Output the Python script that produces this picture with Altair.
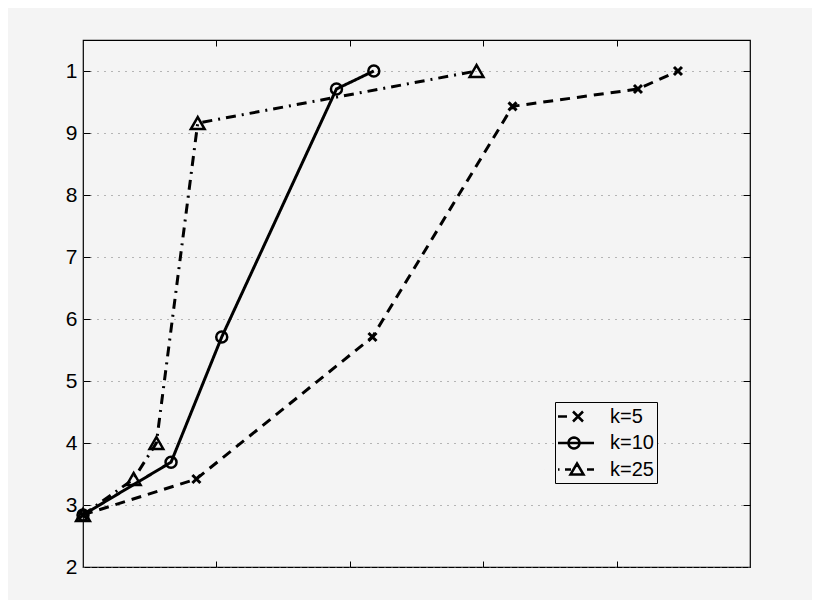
import math
import altair as alt
import pandas as pd

series = ["k=5", "k=10", "k=25"]
k5_x = [0.0, 0.85, 2.17, 3.22, 4.16, 4.46]
k5_y = [2.84, 3.42, 5.71, 9.43, 9.71, 10.0]
k10_x = [0.0, 0.66, 1.04, 1.90, 2.18]
k10_y = [2.84, 3.69, 5.71, 9.71, 10.0]
k25_x = [0.0, 0.38, 0.55, 0.86, 2.95]
k25_y = [2.84, 3.42, 4.0, 9.16, 10.0]
y_ticks = [2, 3, 4, 5, 6, 7, 8, 9, 10]
x_ticks = [1, 2, 3, 4]

rows = []
for name, xs_, ys_ in zip(series, [k5_x, k10_x, k25_x], [k5_y, k10_y, k25_y]):
    for i, (a, b) in enumerate(zip(xs_, ys_)):
        rows.append({"series": name, "idx": i, "x": a, "y": b})
df = pd.DataFrame(rows)

W, H = 667, 527
BG = "#f4f4f4"
FONT = "Liberation Sans"

xs = alt.Scale(domain=[0, 5], nice=False, zero=False)
ys = alt.Scale(domain=[2, 10.5], nice=False, zero=False)

base = alt.Chart(df)

y_main_axis = alt.Axis(
    orient="left", values=y_ticks,
    labelExpr="datum.value == 10 ? '1' : datum.label",
    ticks=False, tickSize=0, domain=False, grid=True,
    gridDash=[1, 6], gridColor="#777777", gridWidth=1,
    title=None, labelFont=FONT, labelFontSize=21, labelColor="black",
    labelPadding=6)

def line_layer(name, dash, axis):
    return base.transform_filter(alt.datum.series == name).mark_line(
        strokeWidth=3, color="black", strokeDash=dash).encode(
        x=alt.X("x:Q", scale=xs, axis=None),
        y=alt.Y("y:Q", scale=ys, axis=axis),
        order="idx:Q",
    )

l5 = line_layer("k=5", [10, 7], y_main_axis)
l10 = line_layer("k=10", [1, 0], None)
l25 = line_layer("k=25", [10, 6, 2, 6], None)

def marker_layer(name, shape, size, sw):
    return base.transform_filter(alt.datum.series == name).mark_point(
        shape=shape, size=size, filled=False, color="black",
        strokeWidth=sw, opacity=1).encode(
        x=alt.X("x:Q", scale=xs, axis=None),
        y=alt.Y("y:Q", scale=ys, axis=None),
    )

m5 = marker_layer("k=5", "M-1,-1L1,1M-1,1L1,-1", 64, 3)
m10 = marker_layer("k=10", "circle", 121, 2.5)
m25 = marker_layer("k=25", "triangle-up", 190, 2.5)

ticksA = base.mark_point(opacity=0).encode(
    x=alt.X("x:Q", scale=xs, axis=alt.Axis(
        orient="top", offset=-H, values=x_ticks, labels=False, domain=False,
        grid=False, tickSize=6, tickColor="black", title=None)),
    y=alt.Y("y:Q", scale=ys, axis=alt.Axis(
        orient="right", offset=-W, values=y_ticks[1:], labels=False,
        domain=False, grid=False, tickSize=7, tickColor="black", title=None)),
)
ticksB = base.mark_point(opacity=0).encode(
    x=alt.X("x:Q", scale=xs, axis=alt.Axis(
        orient="bottom", offset=-H, values=x_ticks, labels=False, domain=False,
        grid=False, tickSize=6, tickColor="black", title=None)),
    y=alt.Y("y:Q", scale=ys, axis=alt.Axis(
        orient="left", offset=-W, values=y_ticks[1:], labels=False,
        domain=False, grid=False, tickSize=7, tickColor="black", title=None)),
)

# legend symbol glyphs (pixel units, converted to the symbol's unit box)
SYM_SIZE = 400          # sqrt -> 20 px box, unit = 10 px
UNIT = 10.0
CX = 11.5               # symbol centre offset inside a legend entry

def pt(px, py):
    return f"{(px - CX) / UNIT:.3f},{py / UNIT:.3f}"

def seg(x0, x1):
    return f"M{pt(x0, 0)}L{pt(x1, 0)}"

anchor = f"M{pt(-14, 0)}L{pt(-13.99, 0)}"
cross = (f"M{pt(15, -5)}L{pt(25, 5)}M{pt(15, 5)}L{pt(25, -5)}")
circ_pts = [(16 + 5.5 * math.cos(2 * math.pi * i / 24),
             5.5 * math.sin(2 * math.pi * i / 24)) for i in range(24)]
circle = "M" + "L".join(pt(a, b) for a, b in circ_pts) + "Z"
tri = f"M{pt(19, -6)}L{pt(25.5, 5)}L{pt(12.5, 5)}Z"

legend_paths = [
    anchor + seg(0, 9) + cross,
    anchor + seg(0, 36) + circle,
    anchor + seg(0, 1.5) + seg(7, 13) + tri + seg(29, 36),
]

leg = base.mark_point(filled=False, color="black", opacity=0).encode(
    x=alt.X("x:Q", scale=xs, axis=None),
    y=alt.Y("y:Q", scale=ys, axis=None),
    shape=alt.Shape("series:N", scale=alt.Scale(domain=series, range=legend_paths),
                    legend=alt.Legend(
                        orient="none", legendX=472, legendY=362, title=None,
                        symbolSize=SYM_SIZE, symbolStrokeWidth=2.5,
                        symbolStrokeColor="black", symbolOpacity=1,
                        labelExpr="datum.label + '  '",
                        labelFont=FONT, labelFontSize=20, labelColor="black",
                        labelOffset=29, padding=3, rowPadding=4.5,
                        strokeColor="black", fillColor=BG)),
)

chart = alt.layer(l5, l10, l25, m5, m10, m25, ticksA, ticksB, leg).resolve_axis(
    x="independent", y="independent"
).properties(
    width=W, height=H,
    autosize=alt.AutoSizeParams(type="none"),
    padding={"left": 75, "top": 32, "right": 62, "bottom": 33},
    background=BG,
).configure_view(stroke="black", strokeWidth=1.2)

chart.save("out.html", embed_options={"renderer": "svg", "actions": False})
